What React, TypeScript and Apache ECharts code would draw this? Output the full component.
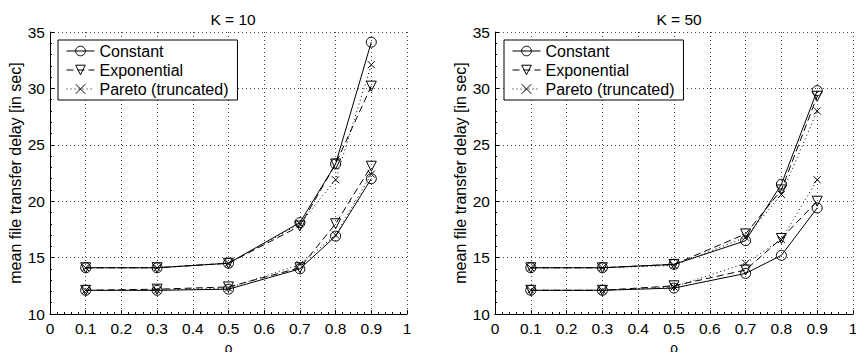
import React, { useEffect, useRef } from "react";
import * as echarts from "echarts";

const rho = [0.1, 0.3, 0.5, 0.7, 0.8, 0.9];
const xTicks = [0, 0.1, 0.2, 0.3, 0.4, 0.5, 0.6, 0.7, 0.8, 0.9, 1];
const yTicks = [10, 15, 20, 25, 30, 35];
const titles = ["K = 10", "K = 50"];
const legendNames = ["Constant", "Exponential", "Pareto (truncated)"];

// K = 10
const constHigh10 = [14.1, 14.1, 14.5, 18.1, 23.3, 34.1];
const expHigh10 = [14.1, 14.1, 14.5, 17.8, 23.3, 30.2];
const parHigh10 = [14.1, 14.1, 14.5, 18.0, 21.9, 32.1];
const constLow10 = [12.1, 12.1, 12.2, 14.0, 16.9, 22.0];
const expLow10 = [12.1, 12.2, 12.4, 14.1, 18.0, 23.1];
const parLow10 = [12.1, 12.1, 12.3, 14.4, 17.0, 22.4];

// K = 50
const constHigh50 = [14.1, 14.1, 14.4, 16.5, 21.5, 29.8];
const expHigh50 = [14.1, 14.1, 14.4, 17.1, 21.0, 29.3];
const parHigh50 = [14.1, 14.1, 14.3, 16.8, 20.6, 28.0];
const constLow50 = [12.1, 12.1, 12.3, 13.6, 15.2, 19.4];
const expLow50 = [12.1, 12.1, 12.5, 13.9, 16.7, 20.0];
const parLow50 = [12.1, 12.1, 12.4, 14.5, 16.6, 21.9];

const FONT = "Liberation Sans";
const X_PATH = "path://M0,0L10,10M10,0L0,10";

const styles: Record<string, any> = {
  Constant: { symbol: "circle", symbolSize: 10, symbolRotate: 0, type: "solid" },
  Exponential: { symbol: "triangle", symbolSize: 10, symbolRotate: 180, type: [7, 4] },
  "Pareto (truncated)": { symbol: X_PATH, symbolSize: 7, symbolRotate: 0, type: [1, 3] },
};

function mkSeries(name: string, values: number[], idx: number) {
  const s = styles[name];
  return {
    name,
    type: "line",
    xAxisIndex: idx,
    yAxisIndex: idx,
    data: rho.map((r, i) => [r, values[i]]),
    symbol: s.symbol,
    symbolSize: s.symbolSize,
    symbolRotate: s.symbolRotate,
    showAllSymbol: true,
    itemStyle: { color: "rgba(0,0,0,0)", borderColor: "#000", borderWidth: 1 },
    lineStyle: { color: "#000", width: 1, type: s.type },
    emphasis: { disabled: true },
    z: 3,
  };
}

function mkXAxis(idx: number) {
  return {
    type: "value",
    gridIndex: idx,
    min: xTicks[0],
    max: xTicks[xTicks.length - 1],
    interval: 0.1,
    name: "ρ",
    nameLocation: "middle",
    nameGap: 20,
    nameTextStyle: { fontFamily: FONT, fontSize: 14, color: "#000" },
    axisLine: { show: true, onZero: false, lineStyle: { color: "#000", width: 1 } },
    axisTick: { show: true, inside: true, length: 4, lineStyle: { color: "#000" } },
    minorTick: { show: true, splitNumber: 5, length: 2, lineStyle: { color: "#000" } },
    axisLabel: {
      fontFamily: FONT,
      fontSize: 15.5,
      color: "#000",
      margin: 6,
      formatter: (v: number) => String(Math.round(v * 10) / 10),
    },
    splitLine: { show: true, lineStyle: { color: "#444", width: 1, type: [1, 3] } },
  };
}

function mkYAxis(idx: number) {
  return {
    type: "value",
    gridIndex: idx,
    min: yTicks[0],
    max: yTicks[yTicks.length - 1],
    interval: 5,
    name: "mean file transfer delay [in sec]",
    nameLocation: "middle",
    nameRotate: 90,
    nameGap: 27,
    nameTextStyle: { fontFamily: FONT, fontSize: 16, color: "#000" },
    axisLine: { show: true, onZero: false, lineStyle: { color: "#000", width: 1 } },
    axisTick: { show: true, inside: true, length: 4, lineStyle: { color: "#000" } },
    minorTick: { show: true, splitNumber: 5, length: 2, lineStyle: { color: "#000" } },
    axisLabel: { fontFamily: FONT, fontSize: 15.5, color: "#000", margin: 5 },
    splitLine: { show: true, lineStyle: { color: "#444", width: 1, type: [1, 3] } },
  };
}

function mkLegend(left: number) {
  return {
    left,
    top: 40,
    orient: "vertical",
    data: legendNames,
    selectedMode: false,
    backgroundColor: "#fff",
    borderColor: "#000",
    borderWidth: 1,
    borderRadius: 0,
    padding: [3, 9, 3, 8],
    itemWidth: 28,
    itemHeight: 12,
    itemGap: 3,
    lineStyle: { width: 1 },
    itemStyle: { borderWidth: 1 },
    textStyle: { fontFamily: FONT, fontSize: 16, color: "#000" },
  };
}

export default function App() {
  const ref = useRef<HTMLDivElement>(null);
  useEffect(() => {
    document.body.style.margin = "0";
    const chart = echarts.init(ref.current!, null, { renderer: "svg" });
    chart.setOption({
      animation: false,
      backgroundColor: "#fff",
      title: [
        {
          text: titles[0],
          left: 228,
          top: 6,
          textAlign: "center",
          textStyle: { fontFamily: FONT, fontSize: 15.5, fontWeight: "normal", color: "#000" },
        },
        {
          text: titles[1],
          left: 674,
          top: 6,
          textAlign: "center",
          textStyle: { fontFamily: FONT, fontSize: 15.5, fontWeight: "normal", color: "#000" },
        },
      ],
      legend: [mkLegend(58), mkLegend(504)],
      grid: [
        { left: 50, top: 32, width: 357, height: 282, containLabel: false, outerBoundsMode: "none" },
        { left: 495, top: 32, width: 358, height: 282, containLabel: false, outerBoundsMode: "none" },
      ],
      xAxis: [mkXAxis(0), mkXAxis(1)],
      yAxis: [mkYAxis(0), mkYAxis(1)],
      series: [
        mkSeries("Constant", constHigh10, 0),
        mkSeries("Exponential", expHigh10, 0),
        mkSeries("Pareto (truncated)", parHigh10, 0),
        mkSeries("Constant", constLow10, 0),
        mkSeries("Exponential", expLow10, 0),
        mkSeries("Pareto (truncated)", parLow10, 0),
        mkSeries("Constant", constHigh50, 1),
        mkSeries("Exponential", expHigh50, 1),
        mkSeries("Pareto (truncated)", parHigh50, 1),
        mkSeries("Constant", constLow50, 1),
        mkSeries("Exponential", expLow50, 1),
        mkSeries("Pareto (truncated)", parLow50, 1),
      ],
    });
    return () => chart.dispose();
  }, []);
  return <div ref={ref} style={{ width: 856, height: 352 }} />;
}
